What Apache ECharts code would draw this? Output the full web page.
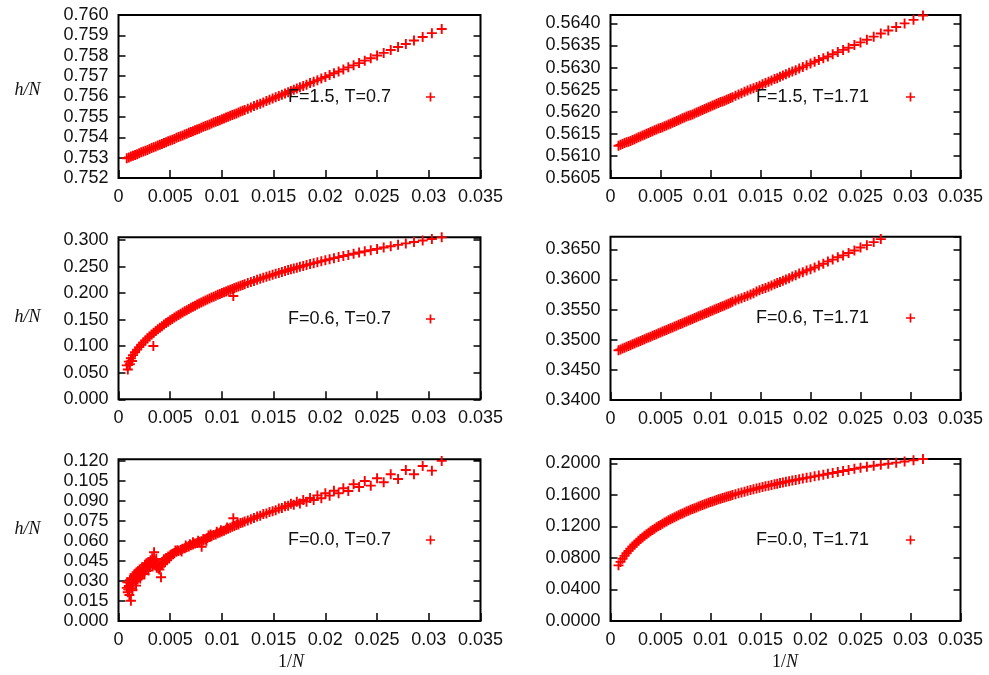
<!DOCTYPE html>
<html><head><meta charset="utf-8">
<script src="https://cdn.jsdelivr.net/npm/echarts@6/dist/echarts.min.js"></script>
<style>html,body{margin:0;padding:0;background:#fff}#c{width:989px;height:675px}</style>
</head><body><div id="c"></div>
<script>
// 1/N values (x)
const xs = [0.03125,0.03030,0.02941,0.02857,0.02778,0.02703,0.02632,0.02564,0.02500,0.02439,
0.02381,0.02326,0.02273,0.02222,0.02174,0.02128,0.02083,0.02041,0.02000,0.01961,
0.01923,0.01887,0.01852,0.01818,0.01786,0.01754,0.01724,0.01695,0.01667,
0.0164,0.0161,0.0158,0.0155,0.0152,0.0149,0.0146,0.0143,0.0140,0.0137,0.0134,0.0131,0.0128,0.0125,0.0122,
0.0120,0.0118,0.0116,0.0114,0.0112,0.0110,0.0108,0.0106,0.0104,0.0102,
0.0100,0.0098,0.0096,0.0094,0.0092,0.0090,0.0088,0.0086,0.0084,0.0082,
0.0080,0.0078,0.0076,0.0074,0.0072,0.0070,0.0068,0.0066,0.0064,0.0062,
0.0060,0.0058,0.0056,0.0054,0.0052,0.0050,0.0048,0.0046,0.0044,0.0042,
0.0040,0.0038,0.0036,0.0034,0.0032,0.0030,0.0028,0.0026,0.0024,0.0022,
0.0020,0.0018,0.0016,0.0014,0.0012,0.0010,0.0008];

// F=1.5, T=0.7
const yTL = [0.75931,0.75911,0.75892,0.75875,0.75858,0.75843,0.75828,0.75814,0.75801,0.75788,
0.75776,0.75764,0.75753,0.75743,0.75733,0.75723,0.75714,0.75705,0.75696,0.75688,
0.75680,0.75673,0.75666,0.75658,0.75652,0.75645,0.75639,0.75633,0.75627,
0.75621,0.75615,0.75609,0.75603,0.75596,0.75590,0.75584,0.75578,0.75571,0.75565,0.75559,0.75553,0.75546,0.75540,0.75534,
0.75530,0.75526,0.75522,0.75517,0.75513,0.75509,0.75505,0.75501,0.75497,0.75492,
0.75488,0.75484,0.75480,0.75476,0.75472,0.75467,0.75463,0.75459,0.75455,0.75451,
0.75447,0.75442,0.75438,0.75434,0.75430,0.75426,0.75422,0.75417,0.75413,0.75409,
0.75405,0.75401,0.75397,0.75392,0.75388,0.75384,0.75380,0.75376,0.75372,0.75367,
0.75363,0.75359,0.75355,0.75351,0.75347,0.75342,0.75338,0.75334,0.75330,0.75326,
0.75322,0.75317,0.75313,0.75309,0.75305,0.75301,0.75297];

// F=1.5, T=1.71
const yTR = [0.56418,0.56408,0.56400,0.56392,0.56384,0.56377,0.56370,0.56363,0.56357,0.56351,
0.56345,0.56340,0.56335,0.56330,0.56325,0.56321,0.56317,0.56313,0.56309,0.56305,
0.56301,0.56298,0.56294,0.56291,0.56288,0.56285,0.56282,0.56279,0.56276,
0.56274,0.56271,0.56268,0.56265,0.56262,0.56259,0.56256,0.56253,0.56251,0.56248,0.56245,0.56242,0.56239,0.56236,0.56233,
0.56231,0.56229,0.56227,0.56225,0.56223,0.56222,0.56220,0.56218,0.56216,0.56214,
0.56212,0.56210,0.56208,0.56206,0.56204,0.56202,0.56200,0.56198,0.56196,0.56194,
0.56192,0.56191,0.56189,0.56187,0.56185,0.56183,0.56181,0.56179,0.56177,0.56175,
0.56173,0.56171,0.56169,0.56167,0.56165,0.56163,0.56162,0.56160,0.56158,0.56156,
0.56154,0.56152,0.56150,0.56148,0.56146,0.56144,0.56142,0.56140,0.56138,0.56136,
0.56134,0.56132,0.56131,0.56129,0.56127,0.56125,0.56123];

// F=0.6, T=0.7
const yML = [0.3050,0.3020,0.2991,0.2963,0.2936,0.2909,0.2883,0.2858,0.2833,0.2809,
0.2786,0.2764,0.2741,0.2720,0.2698,0.2678,0.2658,0.2638,0.2619,0.2600,
0.2581,0.2564,0.2546,0.2529,0.2512,0.2495,0.2479,0.2463,0.2448,
0.2433,0.2416,0.2398,0.2381,0.2363,0.2345,0.2327,0.2308,0.2289,0.2270,0.2250,0.2230,0.2210,0.2189,0.2168,
0.2153,0.2139,0.2124,0.2110,0.2095,0.2079,0.2064,0.2048,0.2032,0.2016,
0.2000,0.1983,0.1967,0.1950,0.1932,0.1915,0.1897,0.1879,0.1860,0.1842,
0.1823,0.1803,0.1784,0.1763,0.1743,0.1722,0.1701,0.1679,0.1657,0.1635,
0.1612,0.1588,0.1564,0.1539,0.1514,0.1488,0.1462,0.1435,0.1407,0.1378,
0.1348,0.1318,0.1286,0.1253,0.1219,0.1184,0.1148,0.1109,0.1069,0.1027,
0.0983,0.0936,0.0886,0.0832,0.0774,0.0710,0.0638];
const mlExtraX = [0.0009,0.0011,0.0013,0.00337,0.0111];
const mlExtraY = [0.0560,0.0660,0.0720,0.1004,0.1945];

// F=0.6, T=1.71 (first points lie above the plotted range)
const yMR = [null,null,null,null,null,0.3667,0.3662,0.3657,0.3653,0.3648,
0.3644,0.3640,0.3637,0.3633,0.3630,0.3626,0.3623,0.3620,0.3617,0.3615,
0.3612,0.3610,0.3607,0.3605,0.3602,0.3600,0.3598,0.3596,0.3594,
0.3592,0.3590,0.3588,0.3586,0.3584,0.3582,0.3580,0.3577,0.3575,0.3573,0.3571,0.3569,0.3567,0.3565,0.3563,
0.35612,0.35598,0.35584,0.35570,0.35556,0.35542,0.35528,0.35514,0.35500,0.35486,
0.35472,0.35458,0.35444,0.35430,0.35416,0.35402,0.35388,0.35374,0.35360,0.35346,
0.35332,0.35318,0.35303,0.35289,0.35275,0.35261,0.35247,0.35233,0.35219,0.35205,
0.35191,0.35177,0.35163,0.35149,0.35135,0.35121,0.35107,0.35093,0.35079,0.35065,
0.35051,0.35037,0.35023,0.35009,0.34995,0.34981,0.34967,0.34953,0.34938,0.34924,
0.34910,0.34896,0.34882,0.34868,0.34854,0.34840,0.34826];

// F=0.0, T=0.7
const yBL = [0.1198,0.1125,0.1160,0.1098,0.1130,0.1063,0.1098,0.1038,0.1068,0.1013,
0.1048,0.1003,0.1023,0.0973,0.0993,0.0956,0.0975,0.0938,0.0956,0.0918,
0.0940,0.0905,0.0920,0.0893,0.0905,0.0880,0.0892,0.0870,0.0878,
0.0862,0.0858,0.0845,0.0842,0.0828,0.0822,0.0815,0.0805,0.0800,0.0788,0.0782,0.0770,0.0762,0.0752,0.0745,
0.0737,0.0733,0.0722,0.0719,0.0710,0.0706,0.0697,0.0690,0.0684,0.0676,
0.0670,0.0662,0.0657,0.0648,0.0643,0.0636,0.0630,0.0622,0.0610,0.0603,
0.0596,0.0592,0.0584,0.0580,0.0572,0.0566,0.0558,0.0553,0.0545,0.0540,
0.0532,0.0524,0.0518,0.0509,0.0500,0.0492,0.0483,0.0472,0.0462,0.0428,
0.0405,0.0425,0.0448,0.0452,0.0438,0.0420,0.0410,0.0392,0.0381,0.0368,
0.0357,0.0340,0.0322,0.0305,0.0285,0.0262,0.0248];
const blExtraX = [0.0009,0.0011,0.0012,0.0013,0.0015,0.0017,0.0019,0.0021,0.0023,0.0025,
0.0027,0.0029,0.0031,0.0033,0.00344,0.0037,0.00411,0.0043,0.0047,0.0055,
0.0065,0.0072,0.00804,0.0082,0.0087,0.0095,0.0105,0.0111,0.0115,
0.00085,0.00095,0.00105,0.00115,0.00125,0.00135,0.00145,0.00155,0.00165,0.00175,
0.00185,0.00195,0.00205,0.00215,0.00225,0.00235,0.00245,0.00255,0.00265,0.00285,
0.00295,0.00305,0.00325,0.00355,0.00365,0.00385,0.00395,0.0045,0.0049,0.0053,
0.0057,0.0061,0.0069,0.0077,0.0085,0.0089,0.0099];
const blExtraY = [0.0215,0.0305,0.0152,0.0245,0.0335,0.0265,0.0372,0.0318,0.0402,0.0352,
0.0432,0.0378,0.0455,0.0418,0.0514,0.0398,0.0327,0.0445,0.0455,0.0528,
0.0565,0.0590,0.0556,0.0614,0.0640,0.0668,0.0700,0.0769,0.0735,
0.0290,0.0235,0.0195,0.0280,0.0320,0.0230,0.0290,0.0350,0.0300,0.0365,
0.0310,0.0330,0.0385,0.0340,0.0360,0.0395,0.0370,0.0420,0.0385,0.0400,
0.0440,0.0405,0.0470,0.0420,0.0465,0.0395,0.0385,0.0440,0.0470,0.0505,
0.0530,0.0520,0.0575,0.0600,0.0600,0.0648,0.0680];

// F=0.0, T=1.71
const yBR = [0.2055,0.2040,0.2024,0.2009,0.1995,0.1982,0.1969,0.1957,0.1945,0.1930,
0.1916,0.1903,0.1891,0.1878,0.1867,0.1856,0.1845,0.1835,0.1825,0.1816,
0.1807,0.1799,0.1790,0.1782,0.1774,0.1765,0.1758,0.1750,0.1742,
0.1734,0.1726,0.1717,0.1708,0.1700,0.1690,0.1681,0.1671,0.1661,0.1652,0.1641,0.1631,0.1620,0.1609,0.1598,
0.1590,0.1583,0.1575,0.1567,0.1559,0.1551,0.1543,0.1534,0.1526,0.1517,
0.1508,0.1499,0.1490,0.1480,0.1471,0.1461,0.1451,0.1441,0.1431,0.1421,
0.1410,0.1399,0.1388,0.1377,0.1365,0.1354,0.1341,0.1329,0.1317,0.1304,
0.1290,0.1277,0.1263,0.1249,0.1234,0.1219,0.1204,0.1188,0.1171,0.1154,
0.1137,0.1119,0.1100,0.1081,0.1060,0.1039,0.1017,0.0994,0.0970,0.0945,
0.0918,0.0889,0.0859,0.0826,0.0790,0.0750,0.0706];

const panelNames = ['F=1.5, T=0.7','F=1.5, T=1.71','F=0.6, T=0.7','F=0.6, T=1.71','F=0.0, T=0.7','F=0.0, T=1.71'];
const yMin  = [0.752, 0.5605, 0, 0.34, 0, 0];
const yMax  = [0.760, 0.56419, 0.3051, 0.3671, 0.121, 0.2055];
const yStep = [0.001, 0.0005, 0.05, 0.005, 0.015, 0.04];
const yDec  = [3, 4, 3, 4, 3, 4];
const xMin = 0, xMax = 0.035, xStep = 0.005;

const ys = [yTL, yTR, yML, yMR, yBL, yBR];
const extras = {2: [mlExtraX, mlExtraY], 4: [blExtraX, blExtraY]};

const grids = [
  {left:118.5, top:15, width:362, height:163},
  {left:610.5, top:15, width:350, height:163},
  {left:118.5, top:237.3, width:362, height:162},
  {left:610.5, top:236.7, width:350, height:163.3},
  {left:118.5, top:459.3, width:362, height:161.7},
  {left:610.5, top:459, width:350, height:162}
];
const legendPos = [
  {right:554, top:87, pad:30},
  {right:74, top:87, pad:32},
  {right:554, top:309, pad:30},
  {right:74, top:308, pad:32},
  {right:554, top:530, pad:30},
  {right:74, top:530, pad:32}
];

const FONT = '"Liberation Sans", Arial, Helvetica, sans-serif';
const TXT = '#111';
const plus = 'path://M0,4.05H10V5.95H0Z M4.05,0H5.95V10H4.05Z';

const chart = echarts.init(document.getElementById('c'), null, {renderer:'canvas'});

const option = {
  animation: false,
  backgroundColor: '#fff',
  grid: grids.map(g => Object.assign({show:true, borderColor:'#000', borderWidth:2, backgroundColor:'transparent'}, g)),
  xAxis: grids.map((g,i) => ({
    type:'value', gridIndex:i, min:xMin, max:xMax, interval:xStep,
    axisLine:{show:false},
    axisTick:{show:true, inside:true, length:8, lineStyle:{color:'#000', width:1.5}},
    splitLine:{show:false},
    axisLabel:{color:TXT, fontFamily:FONT, fontSize:18, margin:10,
      formatter: v => String(+v.toFixed(3))}
  })),
  yAxis: [],
  legend: [],
  series: [],
  graphic: []
};

for (let i = 0; i < 6; i++) {
  const dec = yDec[i];
  const onTick = Math.abs(yMax[i]/yStep[i] - Math.round(yMax[i]/yStep[i])) < 1e-6;
  option.yAxis.push({
    type:'value', gridIndex:i, position:'left', min:yMin[i], max:yMax[i], interval:yStep[i],
    axisLine:{show:false},
    axisTick:{show:true, inside:true, length:7, lineStyle:{color:'#000', width:1.5}},
    splitLine:{show:false},
    axisLabel:{color:TXT, fontFamily:FONT, fontSize:18, margin:10, showMaxLabel:onTick, showMinLabel:true,
      formatter: v => v.toFixed(dec)}
  });
  option.yAxis.push({
    type:'value', gridIndex:i, position:'right', min:yMin[i], max:yMax[i], interval:yStep[i],
    axisLine:{show:false},
    axisTick:{show:true, inside:true, length:7, lineStyle:{color:'#000', width:1.5}},
    splitLine:{show:false},
    axisLabel:{show:false}
  });
  let data = xs.map((x,j) => [x, ys[i][j]]).filter(d => d[1] !== null);
  if (extras[i]) {
    const ex = extras[i];
    data = data.concat(ex[0].map((x,j) => [x, ex[1][j]]));
  }
  option.series.push({
    type:'scatter', name:panelNames[i], xAxisIndex:i, yAxisIndex:2*i,
    data: data, symbol: plus, symbolSize: 10, clip: true, silent: true,
    itemStyle:{color:'#ff0000', opacity:1}
  });
  const lp = legendPos[i];
  option.legend.push({
    data:[{name:panelNames[i], icon:plus}], right:lp.right, top:lp.top, orient:'horizontal',
    align:'right', padding:0, itemWidth:9, itemHeight:9, selectedMode:false,
    textStyle:{color:TXT, fontFamily:FONT, fontSize:18, lineHeight:20, padding:[0, lp.pad, 0, 0]}
  });
}

const hY = [90, 317, 529];
hY.forEach(y => option.graphic.push({
  type:'text', x:27.5, y:y, silent:true,
  style:{text:'h/N', font:'italic 18px "Liberation Serif", "DejaVu Serif", serif', fill:TXT, align:'center', verticalAlign:'middle'}
}));
[291, 785].forEach(x => option.graphic.push({
  type:'text', x:x, y:662, silent:true,
  style:{text:'{u|1/}{i|N}', fill:TXT, align:'center', verticalAlign:'middle',
    rich:{u:{font:'18px "Liberation Serif", serif', fill:TXT}, i:{font:'italic 18px "Liberation Serif", serif', fill:TXT}}}
}));

chart.setOption(option);
</script>
</body></html>
